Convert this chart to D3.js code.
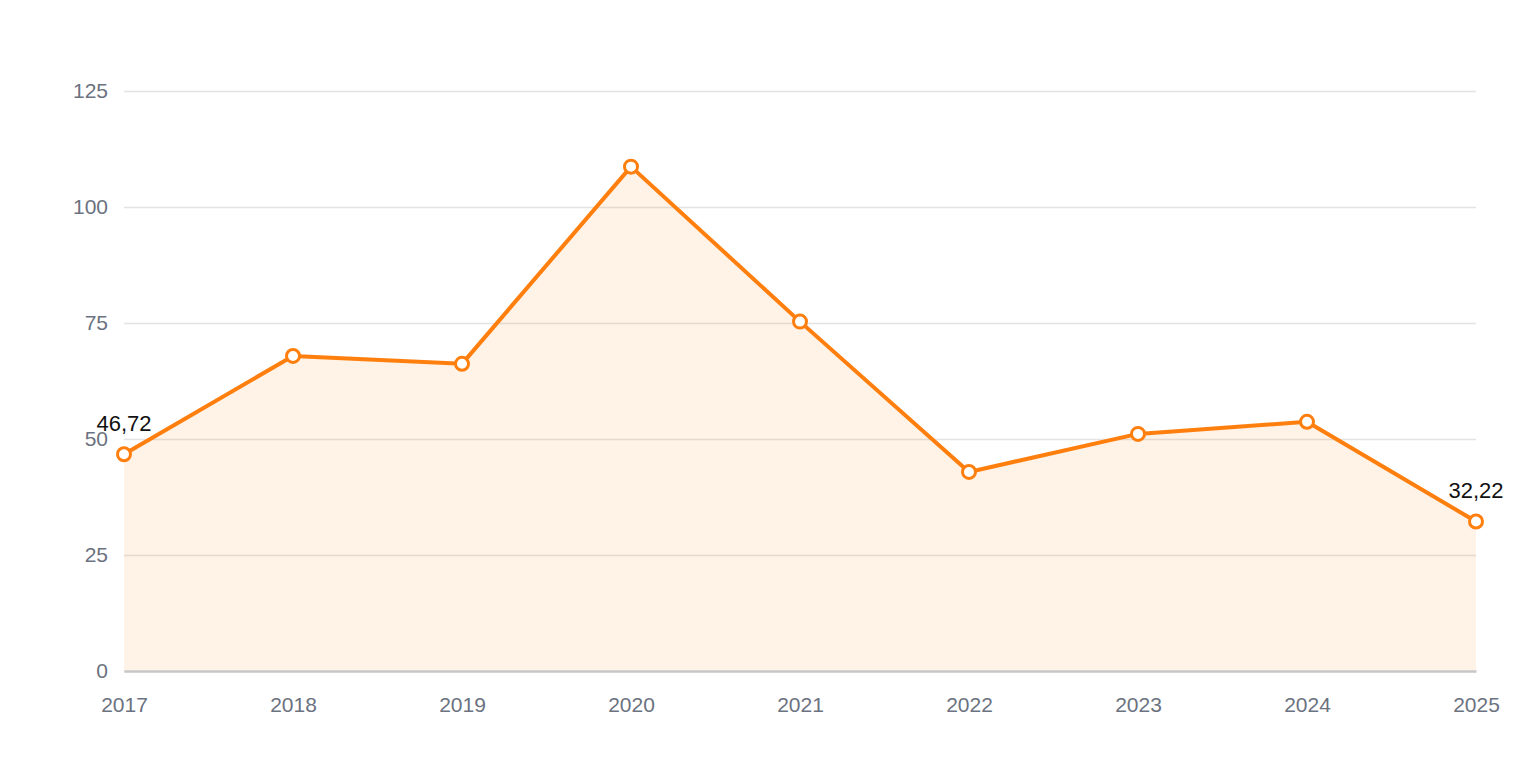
<!DOCTYPE html>
<html>
<head>
<meta charset="utf-8">
<script src="https://cdn.jsdelivr.net/npm/d3@7"></script>
<style>
  body { margin: 0; background: #fff; }
  svg { font-family: "Liberation Sans", Arial, sans-serif; }
</style>
</head>
<body>
<svg width="1520" height="760"></svg>
<script>
const years = ["2017", "2018", "2019", "2020", "2021", "2022", "2023", "2024", "2025"];
const values = [46.72, 67.9, 66.2, 108.7, 75.3, 42.9, 51.1, 53.7, 32.22];
const yTicks = [0, 25, 50, 75, 100, 125];
const labelled = ["2017", "2025"];

var svg = d3.select("svg"),
  margin = { top: 91, right: 44, bottom: 89, left: 124 },
  width = 1520 - margin.left - margin.right,
  height = 760 - margin.top - margin.bottom;

var x = d3.scalePoint().domain(years).range([0, width]),
  y = d3.scaleLinear().domain([0, 125]).range([height, 0]);

var g = svg.append("g")
  .attr("transform", "translate(" + margin.left + "," + margin.top + ")");

// gridlines
g.append("g")
  .call(d3.axisLeft(y).tickValues(yTicks).tickSize(-width).tickPadding(16))
  .call(a => a.select(".domain").remove())
  .call(a => a.selectAll(".tick line").attr("stroke", "#e3e3e3").attr("stroke-width", 1.3))
  .call(a => a.selectAll(".tick text").attr("fill", "#6b7280").attr("font-size", 21));

// area
var data = years.map((d, i) => ({ year: d, value: values[i] }));
g.append("path")
  .datum(data)
  .attr("fill", "#ff7f0e")
  .attr("fill-opacity", 0.1)
  .attr("d", d3.area().x(d => x(d.year)).y0(y(0)).y1(d => y(d.value)));

// x axis
g.append("g")
  .attr("transform", "translate(0," + height + ")")
  .call(d3.axisBottom(x).tickSize(0).tickPadding(26))
  .call(a => a.select(".domain").attr("stroke", "#c8c8c8").attr("stroke-width", 2.5))
  .call(a => a.selectAll(".tick text").attr("fill", "#6b7280").attr("font-size", 21));

// line
g.append("path")
  .datum(data)
  .attr("fill", "none")
  .attr("stroke", "#ff7f0e")
  .attr("stroke-width", 4)
  .attr("stroke-linejoin", "round")
  .attr("d", d3.line().x(d => x(d.year)).y(d => y(d.value)));

// markers
g.selectAll(".dot")
  .data(data)
  .enter().append("circle")
  .attr("cx", d => x(d.year))
  .attr("cy", d => y(d.value))
  .attr("r", 6.5)
  .attr("fill", "#fff")
  .attr("stroke", "#ff7f0e")
  .attr("stroke-width", 3);

// value labels
g.selectAll(".lbl")
  .data(data.filter(d => labelled.includes(d.year)))
  .enter().append("text")
  .attr("x", d => x(d.year))
  .attr("y", d => y(d.value) - 23)
  .attr("text-anchor", "middle")
  .attr("font-size", 22)
  .attr("fill", "#111")
  .text(d => d3.format(".2f")(d.value).replace(".", ","));
</script>
</body>
</html>
